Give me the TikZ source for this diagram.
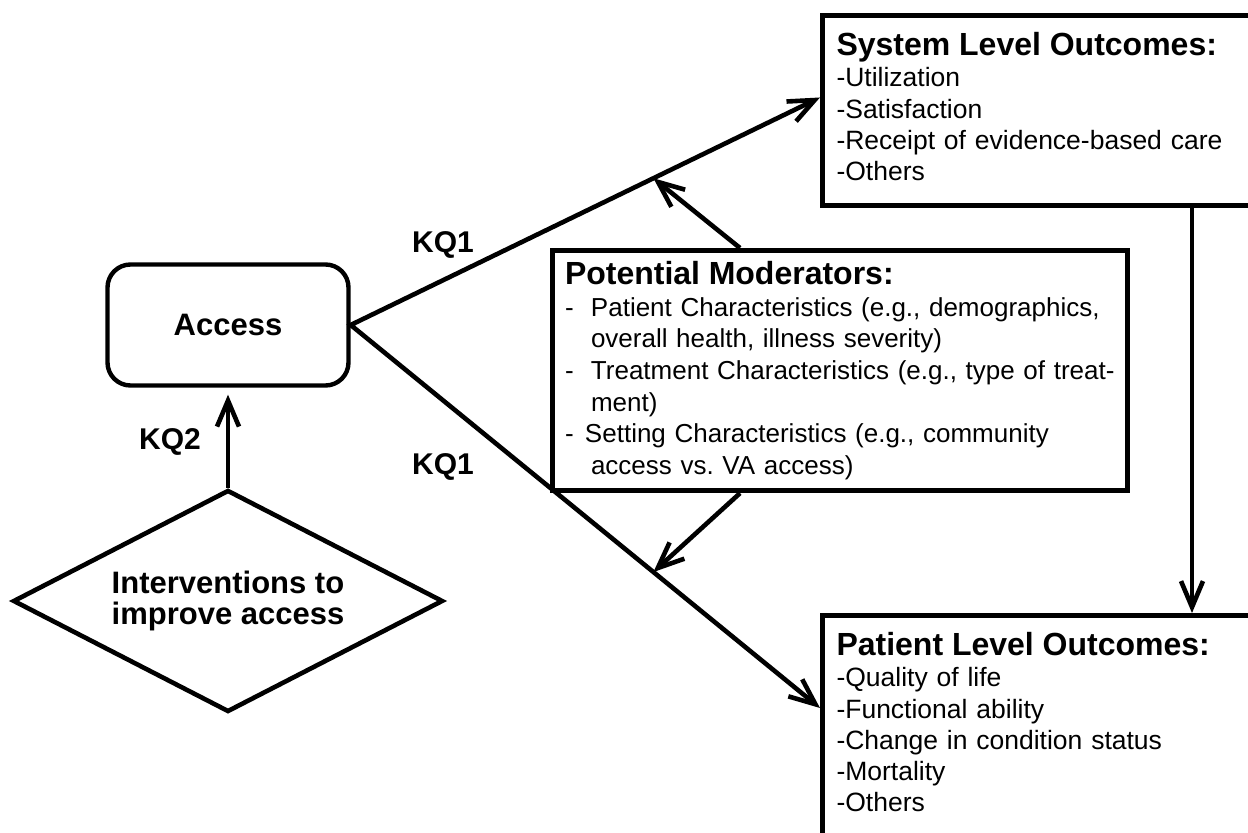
\documentclass[tikz,border=0pt]{standalone}
\usepackage{fontspec}
\setmainfont{Liberation Sans}
\usetikzlibrary{shapes.geometric,arrows.meta}

\newcommand{\boxhead}[1]{{\fontsize{16}{16}\selectfont\bfseries #1}}
\newcommand{\dashitem}[1][13pt]{\makebox[#1][l]{-}}

\begin{document}
\begin{tikzpicture}[x=0.5pt,y=-0.5pt,
    >={Straight Barb[length=13pt,width=11pt]},
    conn/.style={->,line width=2.3pt},
    accbox/.style={draw,line width=2.2pt,rounded corners=11.5pt,minimum width=120.5pt,minimum height=60.5pt,font=\fontsize{15.5}{18}\selectfont\bfseries},
    intdia/.style={diamond,draw,line width=2.3pt,aspect=2,inner sep=0pt,minimum width=215pt,minimum height=111pt,align=center,font=\fontsize{15.5}{15.5}\selectfont\bfseries},
    outbox/.style={draw,line width=2.5pt,anchor=north west,align=left,text width=216pt,inner xsep=7pt,inner ysep=8.5pt,font=\fontsize{13.25}{15.6}\selectfont},
    modbox/.style={draw,line width=2.5pt,anchor=north west,align=left,text width=275pt,inner xsep=6.25pt,inner ysep=5.5pt,font=\fontsize{13}{15.8}\selectfont},
    kq/.style={font=\fontsize{15}{18}\selectfont\bfseries}]
    \useasboundingbox (0,0) rectangle (1248,833);
    \node[accbox] (access) at (228,325) {Access};
    \node[intdia] (interv) at (228,601) {Interventions to\\improve access};
    \node[outbox] (sysout) at (820,13) {\boxhead{System Level Outcomes:}\\
        -Utilization\\
        -Satisfaction\\
        -Receipt of evidence-based care\\
        -Others\rule[-4pt]{0pt}{0pt}};
    \node[outbox] (patout) at (820,613) {\boxhead{Patient Level Outcomes:}\\
        -Quality of life\\
        -Functional ability\\
        -Change in condition status\\
        -Mortality\\
        -Others\rule[-14pt]{0pt}{0pt}};
    \node[modbox] (moder) at (550,248) {\boxhead{Potential Moderators:}\\
        \dashitem Patient Characteristics (e.g., demographics,\\
        \hspace*{13pt}overall health, illness severity)\\
        \dashitem Treatment Characteristics (e.g., type of treat-\\
        \hspace*{13pt}ment)\\
        \dashitem[10pt]Setting Characteristics (e.g., community\\
        \hspace*{13pt}access vs.\ VA access)};
    \node[kq] (kqup) at (443,245) {KQ1};
    \node[kq] (kqlow) at (443,467) {KQ1};
    \node[kq] (kqint) at (170,442) {KQ2};
    \draw[conn,<->] ([yshift=6.5pt]sysout.west) -- coordinate[pos=0.355] (upmid) (access.east)
        -- coordinate[pos=0.645] (lowmid) ([yshift=-47.5pt]patout.north west);
    \draw[conn] ([xshift=-50pt]moder.north) -- (upmid);
    \draw[conn] ([xshift=-50pt]moder.south) -- (lowmid);
    \draw[conn] ([xshift=186pt]sysout.south west) -- ([xshift=186pt]patout.north west);
    \draw[conn,shorten >=3.5pt] (interv.north) -- (access.south);
\end{tikzpicture}
\end{document}
